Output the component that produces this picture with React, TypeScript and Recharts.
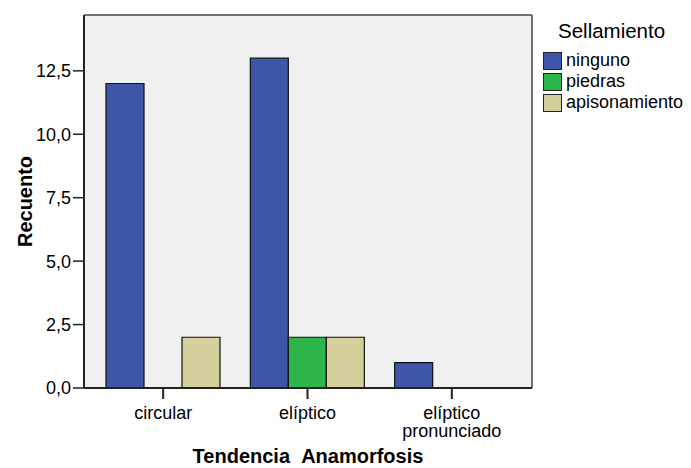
import React from "react"
import { BarChart, Bar, XAxis, YAxis, CartesianGrid, Legend } from "recharts"

const categories = ["circular", "elíptico", "elíptico\npronunciado"]
const ninguno = [12, 13, 1]
const piedras = [0, 2, 0]
const apisonamiento = [2, 2, 0]
const yTicks = [0, 2.5, 5, 7.5, 10, 12.5]

const series = [
  { key: "ninguno", color: "#3d56a8" },
  { key: "piedras", color: "#2fb64a" },
  { key: "apisonamiento", color: "#d4cf9b" },
]

const data = categories.map((name, i) => ({
  name,
  ninguno: ninguno[i],
  piedras: piedras[i],
  apisonamiento: apisonamiento[i],
}))

const font = "'Liberation Sans', Arial, sans-serif"

function CategoryTick({ x, y, payload }: any) {
  const lines = String(payload.value).split("\n")
  return (
    <text x={x} y={y} textAnchor="middle" fill="#000" fontSize={18} fontFamily={font}>
      {lines.map((l, i) => (
        <tspan key={i} x={x} dy={i === 0 ? "0.71em" : 18}>
          {l}
        </tspan>
      ))}
    </text>
  )
}

function LegendBox() {
  return (
    <div style={{ fontFamily: font, color: "#000" }}>
      <div style={{ fontSize: 20.5, marginLeft: 15, height: 30, lineHeight: "30px", marginBottom: 4 }}>Sellamiento</div>
      {series.map((s) => (
        <div key={s.key} style={{ display: "flex", alignItems: "center", height: 21, fontSize: 18 }}>
          <span
            style={{
              display: "inline-block",
              width: 17,
              height: 16,
              background: s.color,
              border: "1px solid #222",
              marginRight: 4,
            }}
          />
          {s.key}
        </div>
      ))}
    </div>
  )
}

const frameH = ({ offset }: any) => [offset.top, offset.top + offset.height]
const frameV = ({ offset }: any) => [offset.left, offset.left + offset.width]

export default function App() {
  return (
    <div style={{ margin: "-8px 0 0 -8px", width: 691, height: 468, background: "#fff" }}>
      <BarChart
        width={691}
        height={468}
        data={data}
        margin={{ top: 15, right: 159, left: 0, bottom: 0 }}
        barCategoryGap={15}
        barGap={0}
      >
        <CartesianGrid
          fill="#f0f0f0"
          stroke="#444"
          strokeWidth={1.5}
          horizontalCoordinatesGenerator={frameH}
          verticalCoordinatesGenerator={frameV}
        />
        <XAxis
          dataKey="name"
          height={80}
          padding={{ left: 7, right: 8 }}
          tickSize={11}
          tickMargin={7}
          tick={<CategoryTick />}
          axisLine={{ stroke: "#222", strokeWidth: 2 }}
          tickLine={{ stroke: "#222", strokeWidth: 2 }}
          label={{
            value: "Tendencia\u00a0\u00a0Anamorfosis",
            position: "insideBottom",
            offset: 5,
            fontSize: 20,
            fontWeight: "bold",
            fill: "#000",
            fontFamily: font,
          }}
        />
        <YAxis
          width={84}
          domain={[0, 14.7]}
          ticks={yTicks}
          tickSize={11}
          tickMargin={2}
          tickFormatter={(v: number) => v.toFixed(1).replace(".", ",")}
          tick={{ fontSize: 18, fill: "#000", fontFamily: font }}
          axisLine={{ stroke: "#222", strokeWidth: 2 }}
          tickLine={{ stroke: "#222", strokeWidth: 1.5 }}
          label={{
            value: "Recuento",
            angle: -90,
            position: "insideLeft",
            offset: 25,
            fontSize: 20,
            fontWeight: "bold",
            fill: "#000",
            fontFamily: font,
            style: { textAnchor: "middle" },
          }}
        />
        <Legend
          layout="horizontal"
          verticalAlign="middle"
          align="center"
          content={() => <LegendBox />}
          wrapperStyle={{ position: "absolute", left: 543, top: 16, width: 150 }}
        />
        {series.map((s) => (
          <Bar key={s.key} dataKey={s.key} fill={s.color} stroke="#111" strokeWidth={1.2} isAnimationActive={false} />
        ))}
      </BarChart>
    </div>
  )
}
